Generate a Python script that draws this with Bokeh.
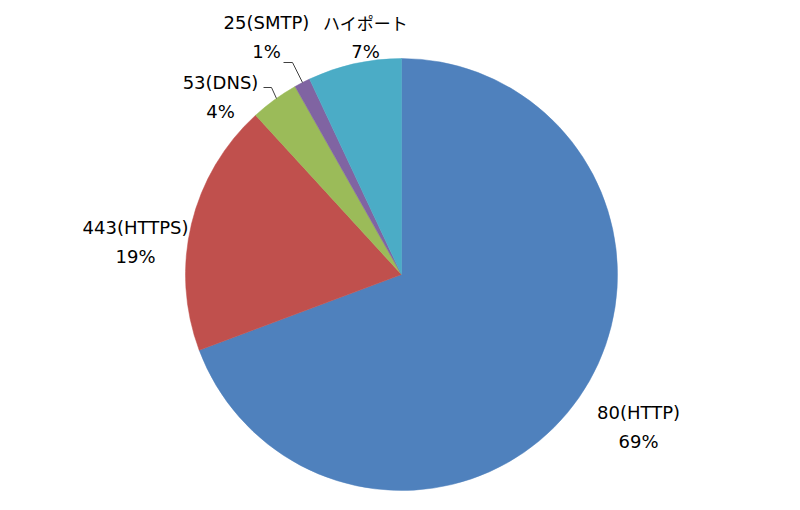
import math
from bokeh.plotting import figure
from bokeh.models import ColumnDataSource, Range1d
from bokeh.core.properties import value
from bokeh.embed import file_html
from bokeh.resources import INLINE

# ---- data ----
categories = ["80(HTTP)", "443(HTTPS)", "53(DNS)", "25(SMTP)", "ハイポート"]
shares = [69.3, 18.9, 3.6, 1.2, 7.0]
pct_labels = ["69%", "19%", "4%", "1%", "7%"]
colors = ["#4F81BD", "#C0504D", "#9BBB59", "#8064A2", "#4BACC6"]

# ---- layout (page pixels) ----
W, H = 784, 494
def sy(y):  # page-screen y -> data y (y up)
    return (510 - y)

cx, cy, r = 401, sy(274), 216
label_pos = [  # centre of name line (page px)
    (638, 412), (135, 227), (220, 82), (266, 22), (365, 22)
]
line_gap = 29
leaders = [
    ([263, 271, 276], [87, 87, 98]),
    ([283, 292, 302], [62, 62, 82]),
]

p = figure(width=W, height=H, output_backend="svg", toolbar_location=None,
           x_range=Range1d(0, W), y_range=Range1d(sy(H), sy(0)),
           min_border=0, outline_line_color=None)
p.axis.visible = False
p.grid.visible = False
p.background_fill_color = "white"
p.border_fill_color = "white"

total = sum(shares)
starts, ends = [], []
cum = 0.0
for s in shares:
    starts.append(math.pi / 2 - 2 * math.pi * cum / total)
    cum += s
    ends.append(math.pi / 2 - 2 * math.pi * cum / total)

src = ColumnDataSource(dict(start=starts, end=ends, color=colors, cat=categories))
p.wedge(x=cx, y=cy, radius=r, start_angle="start", end_angle="end",
        direction="clock", fill_color="color", line_color="color",
        line_width=0.5, source=src)

for xs, ys in leaders:
    p.line(xs, [sy(v) for v in ys], line_color="#404040", line_width=1)

lat_idx = [0, 1, 2, 3]
name_src = ColumnDataSource(dict(
    x=[label_pos[i][0] for i in lat_idx],
    y=[sy(label_pos[i][1]) for i in lat_idx],
    t=[categories[i] for i in lat_idx]))
p.text(x="x", y="y", text="t", source=name_src, text_font=value("DejaVu Sans"),
       text_font_size="18px", text_align="center", text_baseline="middle",
       text_color="black")

jp_src = ColumnDataSource(dict(x=[label_pos[4][0]], y=[sy(label_pos[4][1])],
                               t=[categories[4]]))
p.text(x="x", y="y", text="t", source=jp_src, text_font=value("Noto Sans CJK JP"),
       text_font_size="17px", text_align="center", text_baseline="middle",
       text_color="black")

pct_src = ColumnDataSource(dict(
    x=[lp[0] for lp in label_pos],
    y=[sy(lp[1] + line_gap) for lp in label_pos],
    t=pct_labels))
p.text(x="x", y="y", text="t", source=pct_src, text_font=value("DejaVu Sans"),
       text_font_size="18px", text_align="center", text_baseline="middle",
       text_color="black")

open("out.html", "w").write(file_html(p, INLINE))
